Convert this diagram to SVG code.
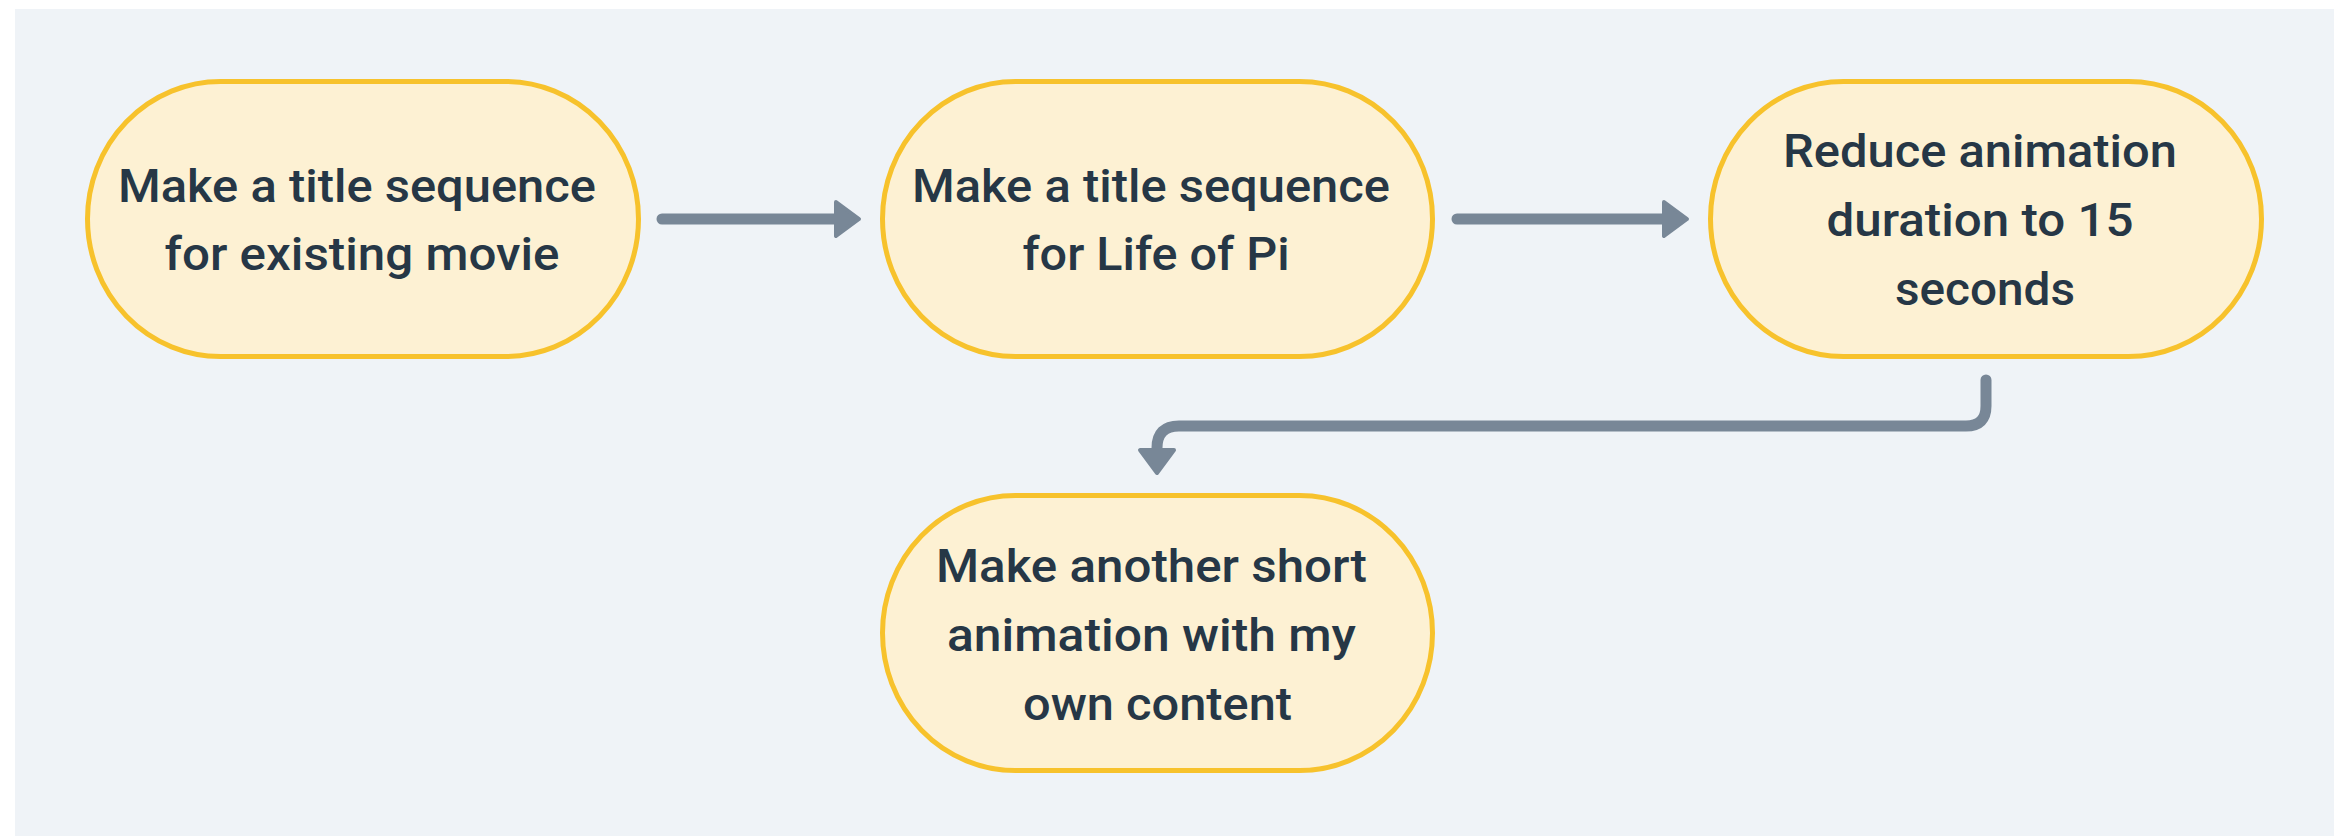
<svg xmlns="http://www.w3.org/2000/svg" width="2346" height="836" viewBox="0 0 2346 836">
<style>
.bg{fill:#eff3f7}
.node rect{fill:#fdf1d3;stroke:#f7c22c;stroke-width:5}
.node text{font-family:Roboto,"Liberation Sans",sans-serif;font-weight:500;font-size:46px;fill:#263746;text-anchor:middle}
.conn path{fill:none;stroke:#788797;stroke-width:11;stroke-linecap:round;stroke-linejoin:round}
</style>
<defs>
<marker id="arrow" markerUnits="userSpaceOnUse" viewBox="-4 -24 36 48" markerWidth="36" markerHeight="48" refX="0" refY="0" orient="auto" overflow="visible">
<path d="M1,-17 L24,0 L1,17 Z" fill="#788797" stroke="#788797" stroke-width="4" stroke-linejoin="round"/>
</marker>
</defs>
<rect class="bg" x="15" y="9" width="2319" height="827"/>
<g id="connectors" class="conn">
<path id="c1" d="M662,219 H835" marker-end="url(#arrow)"/>
<path id="c2" d="M1457,219 H1663" marker-end="url(#arrow)"/>
<path id="c3" d="M1986,380 V406 Q1986,426 1966,426 H1179 Q1157,426 1157,448 V449" marker-end="url(#arrow)"/>
</g>
<g id="node1" class="node">
<rect x="87.5" y="81.5" width="551" height="275" rx="133" ry="137.5"/>
<text x="357" y="202" textLength="478" lengthAdjust="spacingAndGlyphs">Make a title sequence</text>
<text x="362" y="270" textLength="395" lengthAdjust="spacingAndGlyphs">for existing movie</text>
</g>
<g id="node2" class="node">
<rect x="882.5" y="81.5" width="550" height="275" rx="133" ry="137.5"/>
<text x="1151" y="202" textLength="478" lengthAdjust="spacingAndGlyphs">Make a title sequence</text>
<text x="1156" y="270" textLength="267" lengthAdjust="spacingAndGlyphs">for Life of Pi</text>
</g>
<g id="node3" class="node">
<rect x="1710.5" y="81.5" width="551" height="275" rx="133" ry="137.5"/>
<text x="1980" y="167" textLength="394" lengthAdjust="spacingAndGlyphs">Reduce animation</text>
<text x="1980" y="236" textLength="307" lengthAdjust="spacingAndGlyphs">duration to 15</text>
<text x="1985" y="305" textLength="180" lengthAdjust="spacingAndGlyphs">seconds</text>
</g>
<g id="node4" class="node">
<rect x="882.5" y="495.5" width="550" height="275" rx="133" ry="137.5"/>
<text x="1151.5" y="582" textLength="431" lengthAdjust="spacingAndGlyphs">Make another short</text>
<text x="1151.5" y="651" textLength="409" lengthAdjust="spacingAndGlyphs">animation with my</text>
<text x="1157.5" y="720" textLength="269" lengthAdjust="spacingAndGlyphs">own content</text>
</g>
</svg>
